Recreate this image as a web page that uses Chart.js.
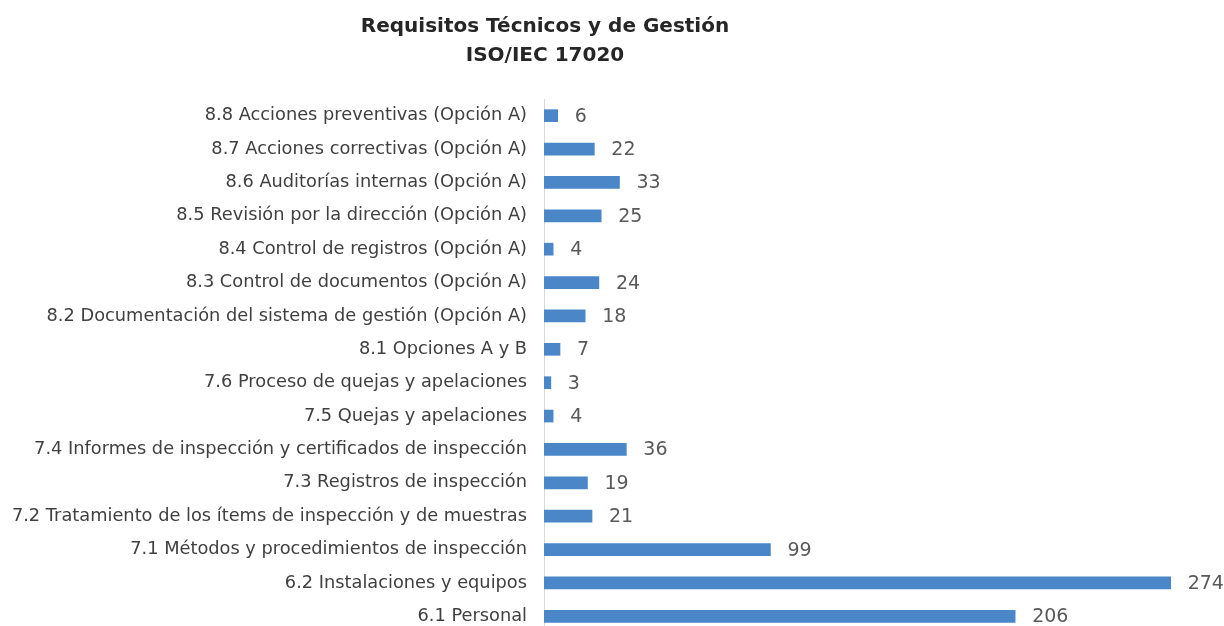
<!DOCTYPE html>
<html>
<head>
<meta charset="utf-8">
<script src="https://cdn.jsdelivr.net/npm/chart.js@4"></script>
<style>
  html, body { margin: 0; padding: 0; background: #fff; overflow: hidden; height: 626px; }
  canvas { display: block; }
</style>
</head>
<body>
<canvas id="requisitos" width="1224" height="640"></canvas>
<script>
// datos
var categorias = [
  "8.8 Acciones preventivas (Opción A)",
  "8.7 Acciones correctivas (Opción A)",
  "8.6 Auditorías internas (Opción A)",
  "8.5 Revisión por la dirección (Opción A)",
  "8.4 Control de registros (Opción A)",
  "8.3 Control de documentos (Opción A)",
  "8.2 Documentación del sistema de gestión (Opción A)",
  "8.1 Opciones A y B",
  "7.6 Proceso de quejas y apelaciones",
  "7.5 Quejas y apelaciones",
  "7.4 Informes de inspección y certificados de inspección",
  "7.3 Registros de inspección",
  "7.2 Tratamiento de los ítems de inspección y de muestras",
  "7.1 Métodos y procedimientos de inspección",
  "6.2 Instalaciones y equipos",
  "6.1 Personal"
];
var valores = [6, 22, 33, 25, 4, 24, 18, 7, 3, 4, 36, 19, 21, 99, 274, 206];
var titulo = ["Requisitos Técnicos y de Gestión", "ISO/IEC 17020"];

var fuente = "'DejaVu Sans', sans-serif";

// titulo y etiquetas de valor dibujados a mano
var extras = {
    id: "extras",
    afterDatasetsDraw: function(chart) {
        var ctx = chart.ctx;
        ctx.save();
        ctx.fillStyle = "#595959";
        ctx.font = "19px " + fuente;
        ctx.textAlign = "left";
        ctx.textBaseline = "middle";
        chart.getDatasetMeta(0).data.forEach(function(bar, i) {
            ctx.fillText(String(valores[i]), bar.x + 17, bar.y + 1);
        });
        ctx.fillStyle = "#262626";
        ctx.font = "bold 20px " + fuente;
        ctx.textAlign = "center";
        ctx.fillText(titulo[0], 545, 27);
        ctx.fillText(titulo[1], 545, 56);
        ctx.restore();
    }
};

var canvasElement = document.getElementById("requisitos");
var config = {
    type: "bar",
    data: {
        labels: categorias,
        datasets: [{
            data: valores,
            backgroundColor: "#4a86c8",
            barThickness: 12
        }]
    },
    options: {
        indexAxis: "y",
        responsive: false,
        animation: false,
        // el lienzo es mas alto que la ventana: el original queda cortado por abajo
        layout: { padding: { top: 99, bottom: 7, left: 0, right: 3 } },
        plugins: {
            legend: { display: false },
            tooltip: { enabled: false }
        },
        scales: {
            x: {
                display: false,
                min: 0,
                max: 296
            },
            y: {
                grid: { display: false, drawTicks: false },
                border: { display: true, color: "#d9d9d9", width: 1 },
                ticks: {
                    color: "#404040",
                    padding: 17,
                    autoSkip: false,
                    font: { family: fuente, size: 17.8 }
                },
                afterFit: function(scale) {
                    scale.width = 544;
                    scale.paddingTop = 0;
                    scale.paddingBottom = 0;
                }
            }
        }
    },
    plugins: [extras]
};

var grafico = new Chart(canvasElement, config);
</script>
</body>
</html>
